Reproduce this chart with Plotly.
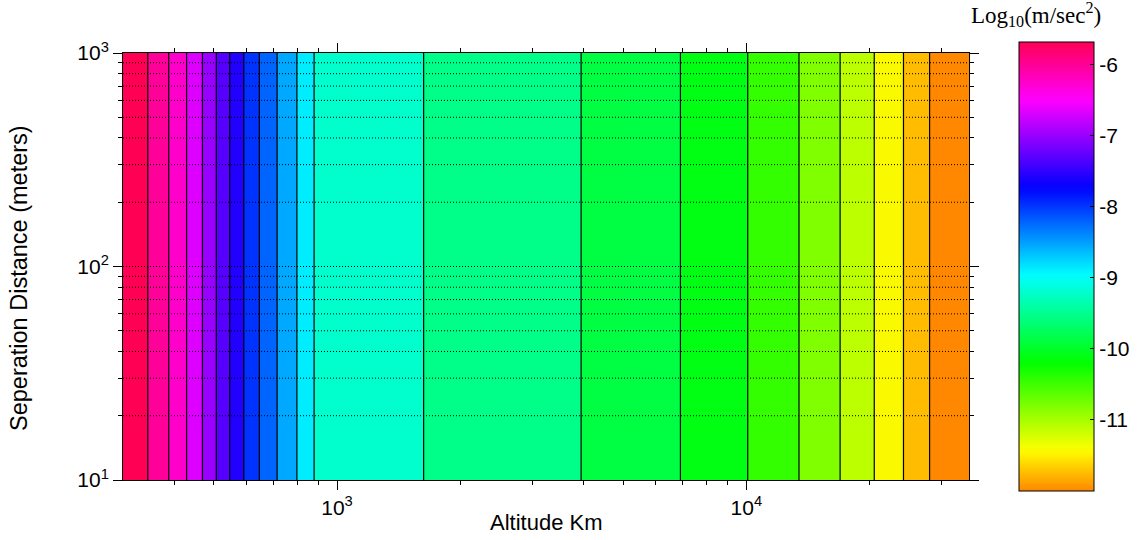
import colorsys
import plotly.graph_objects as go

# Altitude band edges (km) between successive contour levels
alt_edges_km = [300, 345, 388, 429, 469, 507, 547, 592, 646, 714, 798, 879,
                1628, 3948, 6903, 10080, 13450, 16950, 20540, 24210, 28040, 35000]
# Log10 acceleration (m/sec^2) of each band, lowest altitude first
band_log_accel = [-5.68, -6.01, -6.25, -6.66, -6.99, -7.32, -7.57, -7.98, -8.22,
                  -8.55, -8.88, -9.21, -9.54, -9.87, -10.11, -10.44, -10.81,
                  -11.10, -11.43, -11.75, -12.00]
# Separation distance extent (m)
sep_edges_m = [10, 1000]

# Tick values
x_major = [1000, 10000]
x_major_text = ["10<sup>3</sup>", "10<sup>4</sup>"]
x_minor = [400, 500, 600, 700, 800, 900, 2000, 3000, 4000, 5000, 6000, 7000,
           8000, 9000, 20000, 30000]
y_major = [10, 100, 1000]
y_major_text = ["10<sup>1</sup>", "10<sup>2</sup>", "10<sup>3</sup>"]
y_minor = [20, 30, 40, 50, 60, 70, 80, 90, 200, 300, 400, 500, 600, 700, 800, 900]
cbar_ticks = [-6, -7, -8, -9, -10, -11]

zmin, zmax = -12.0, -5.68

# HSV-style colour scale: orange at the bottom, through yellow, green, cyan,
# blue and magenta up to a pinkish red at the top
hue_lo, hue_hi = 32.0, 340.0
n_stops = 60
colorscale = []
for i in range(n_stops + 1):
    t = i / n_stops
    h = (hue_lo + t * (hue_hi - hue_lo)) % 360.0
    r, g, b = colorsys.hsv_to_rgb(h / 360.0, 1.0, 1.0)
    colorscale.append([t, f"rgb({round(r*255)},{round(g*255)},{round(b*255)})"])

font_sans = "Liberation Sans, Arial, sans-serif"

fig = go.Figure()

fig.add_trace(go.Heatmap(
    x=alt_edges_km,
    y=sep_edges_m,
    z=[band_log_accel],
    zmin=zmin, zmax=zmax,
    colorscale=colorscale,
    zsmooth=False,
    hoverinfo="skip",
    colorbar=dict(
        thickness=75, thicknessmode="pixels",
        len=449, lenmode="pixels",
        x=(1027 - 123) / 854, xanchor="left",
        y=0.5, yanchor="middle",
        xpad=0, ypad=0,
        outlinecolor="black", outlinewidth=1,
        tickmode="array", tickvals=cbar_ticks,
        ticktext=[str(v) for v in cbar_ticks],
        ticks="inside", ticklen=4, tickcolor="black",
        tickfont=dict(family=font_sans, size=21, color="black"),
    ),
))

# Contour lines at the band boundaries
cx, cy = [], []
for a in alt_edges_km[1:-1]:
    cx += [a, a, None]
    cy += [sep_edges_m[0], sep_edges_m[1], None]
fig.add_trace(go.Scatter(
    x=cx, y=cy, mode="lines",
    line=dict(color="black", width=1.2),
    hoverinfo="skip", showlegend=False,
))

# Dotted horizontal grid drawn over the filled bands
shapes = []
for yv in y_minor + [100]:
    shapes.append(dict(
        type="line", xref="paper", x0=0, x1=1, yref="y", y0=yv, y1=yv,
        line=dict(color="black", width=1, dash="1px,2px"),
        layer="above",
    ))

axis_common = dict(
    type="log",
    showline=True, linecolor="black", linewidth=1,
    mirror="allticks",
    ticks="outside", ticklen=9, tickwidth=1, tickcolor="black",
    showgrid=False, zeroline=False,
    tickfont=dict(family=font_sans, size=21, color="black"),
    layer="above traces",
)

fig.update_xaxes(
    **axis_common,
    range=[2.4771213, 4.5440680],
    tickmode="array", tickvals=x_major, ticktext=x_major_text,
    minor=dict(tickmode="array", tickvals=x_minor, ticks="outside",
               ticklen=4, tickwidth=1, tickcolor="black", showgrid=False),
)
fig.update_yaxes(
    **axis_common,
    range=[1, 3],
    tickmode="array", tickvals=y_major, ticktext=y_major_text,
    minor=dict(tickmode="array", tickvals=y_minor, ticks="outside",
               ticklen=4, tickwidth=1, tickcolor="black", showgrid=False),
)

annotations = [
    dict(text="Altitude Km", xref="paper", yref="paper",
         x=0.5, y=(480 - 522) / 427, xanchor="center", yanchor="middle",
         showarrow=False, font=dict(family=font_sans, size=22, color="black")),
    dict(text="Seperation Distance (meters)", xref="paper", yref="paper",
         x=(18 - 123) / 854, y=(480 - 278) / 427, xanchor="center", yanchor="middle",
         textangle=-90, showarrow=False,
         font=dict(family=font_sans, size=23.5, color="black")),
    dict(text="Log<sub>10</sub>(m/sec<sup>2</sup>)", xref="paper", yref="paper",
         x=(1045 - 123) / 854, y=(480 - 15) / 427, xanchor="center", yanchor="middle",
         showarrow=False,
         font=dict(family="Liberation Serif, DejaVu Serif, serif", size=23, color="black")),
]

fig.update_layout(
    width=1146, height=540,
    margin=dict(l=123, r=169, t=53, b=60),
    paper_bgcolor="white", plot_bgcolor="white",
    showlegend=False,
    shapes=shapes,
    annotations=annotations,
)

fig.write_html("out.html")
